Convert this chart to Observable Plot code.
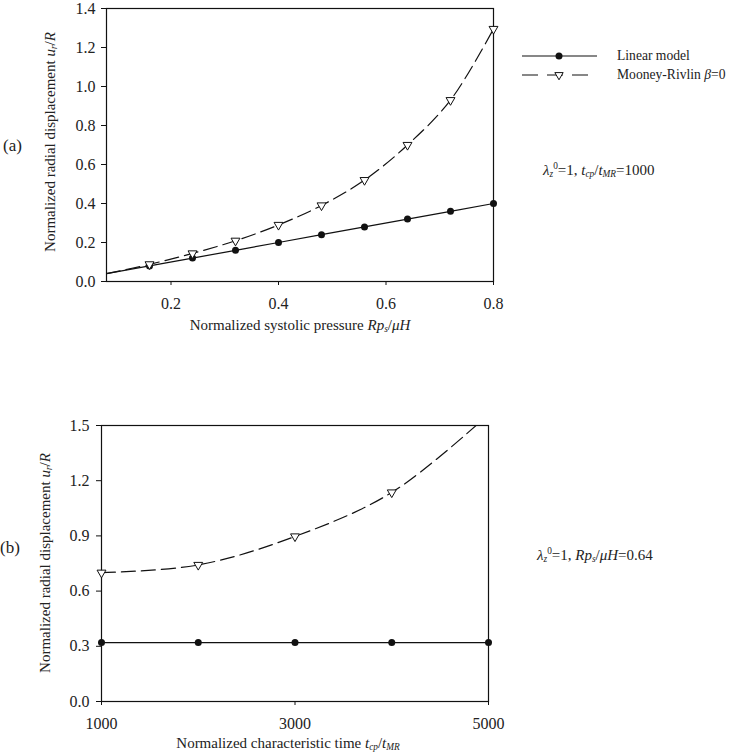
<!DOCTYPE html>
<html><head><meta charset="utf-8">
<script src="https://cdn.jsdelivr.net/npm/d3@7"></script>
<script src="https://cdn.jsdelivr.net/npm/@observablehq/plot@0.6"></script>
<style>
body{margin:0;background:#fff;}
#root{position:relative;width:730px;height:756px;font-family:"Liberation Serif","Times New Roman",serif;color:#222;overflow:hidden;}
#root svg{position:absolute;left:0;}
.ov{position:absolute;white-space:nowrap;font-size:15px;line-height:1;}
.ov sub{font-size:0.62em;vertical-align:-0.3em;line-height:0;}
.ov sup{font-size:0.62em;vertical-align:0.55em;line-height:0;}
.rot{transform:translate(-50%,-50%) rotate(-90deg);}
.ctr{transform:translate(-50%,-50%);}
.lft{transform:translateY(-50%);}
.leg{font-size:13.6px;}
.pan{font-size:17px;}
</style></head><body><div id="root"></div>
<script>
// Panel (a): normalized systolic pressure vs normalized radial displacement
const pressure = [0.08, 0.16, 0.24, 0.32, 0.40, 0.48, 0.56, 0.64, 0.72, 0.80];
const linearA  = [0.04, 0.08, 0.12, 0.16, 0.20, 0.24, 0.28, 0.32, 0.36, 0.40];
const mooneyA  = [0.04, 0.088, 0.144, 0.209, 0.29, 0.39, 0.52, 0.70, 0.93, 1.295];
const xTicksA  = [0.2, 0.4, 0.6, 0.8];
const yTicksA  = [0, 0.2, 0.4, 0.6, 0.8, 1.0, 1.2, 1.4];

// Panel (b): normalized characteristic time vs normalized radial displacement
const time     = [1000, 2000, 3000, 4000, 5000];
const linearB  = [0.32, 0.32, 0.32, 0.32, 0.32];
const mooneyB  = [0.70, 0.742, 0.897, 1.136, 1.56];
const xTicksB  = [1000, 3000, 5000];
const yTicksB  = [0, 0.3, 0.6, 0.9, 1.2, 1.5];

const seriesNames = ["Linear model", "Mooney-Rivlin"];

const dataA = pressure.map((p, i) => ({x: p, lin: linearA[i], mr: mooneyA[i]}));
const dataB = time.map((t, i) => ({x: t, lin: linearB[i], mr: mooneyB[i]}));

const root = document.getElementById("root");
const baseStyle = {fontFamily: "'Liberation Serif', 'Times New Roman', serif", fontSize: "16px", color: "#222", background: "transparent", overflow: "visible"};
const dash = "14,6";
const ink = "#111";

const plotA = Plot.plot({
  width: 730, height: 380,
  marginLeft: 106, marginRight: 237, marginTop: 8, marginBottom: 99,
  style: baseStyle,
  x: {domain: [0.08, 0.8]},
  y: {domain: [0, 1.4]},
  marks: [
    Plot.axisX({ticks: xTicksA, tickFormat: ".1f", tickSize: 4, tickPadding: 12, fontSize: 16, label: null, stroke: ink}),
    Plot.axisY({ticks: yTicksA, tickFormat: ".1f", tickSize: 5, tickPadding: 6, fontSize: 16, label: null, stroke: ink}),
    Plot.frame({stroke: ink, strokeWidth: 1.2}),
    Plot.line(dataA, {x: "x", y: "lin", stroke: ink, strokeWidth: 1.2}),
    Plot.line(dataA, {x: "x", y: "mr", stroke: ink, strokeWidth: 1.2, strokeDasharray: dash, curve: "catmull-rom"}),
    Plot.dot(dataA.filter(d => d.x >= 0.16), {x: "x", y: "lin", r: 3.5, fill: ink, stroke: "none"}),
    Plot.dot(dataA.filter(d => d.x >= 0.16), {x: "x", y: "mr", symbol: "triangle", rotate: 180, r: 3.3, fill: "#fff", stroke: ink, strokeWidth: 1})
  ]
});
plotA.style.top = "0px";
root.appendChild(plotA);

const plotB = Plot.plot({
  width: 730, height: 376,
  marginLeft: 101, marginRight: 242, marginTop: 45, marginBottom: 55,
  style: baseStyle,
  x: {domain: [1000, 5000]},
  y: {domain: [0, 1.5]},
  marks: [
    Plot.axisX({ticks: xTicksB, tickFormat: d => String(d), tickSize: 4, tickPadding: 12, fontSize: 16, label: null, stroke: ink}),
    Plot.axisY({ticks: yTicksB, tickFormat: ".1f", tickSize: 5, tickPadding: 7, fontSize: 16, label: null, stroke: ink}),
    Plot.frame({stroke: ink, strokeWidth: 1.2}),
    Plot.line(dataB, {x: "x", y: "lin", stroke: ink, strokeWidth: 1.2}),
    Plot.line(dataB, {x: "x", y: "mr", stroke: ink, strokeWidth: 1.2, strokeDasharray: dash, curve: "catmull-rom", clip: true}),
    Plot.dot(dataB, {x: "x", y: "lin", r: 3.5, fill: ink, stroke: "none"}),
    Plot.dot(dataB.filter(d => d.mr <= 1.5), {x: "x", y: "mr", symbol: "triangle", rotate: 180, r: 3.3, fill: "#fff", stroke: ink, strokeWidth: 1})
  ]
});
plotB.style.top = "380px";
root.appendChild(plotB);

// Legend symbols
const leg = d3.select(root).append("svg")
  .attr("width", 100).attr("height", 40)
  .style("left", "512px").style("top", "45px");
leg.append("line").attr("x1", 10).attr("x2", 85).attr("y1", 11).attr("y2", 11).attr("stroke", ink).attr("stroke-width", 1.2);
leg.append("circle").attr("cx", 47).attr("cy", 11).attr("r", 3.5).attr("fill", ink);
leg.append("line").attr("x1", 10).attr("x2", 85).attr("y1", 30).attr("y2", 30).attr("stroke", ink).attr("stroke-width", 1.2).attr("stroke-dasharray", "16,9");
leg.append("path").attr("d", d3.symbol(d3.symbolTriangle, 30)()).attr("transform", "translate(47,30) rotate(180)").attr("fill", "#fff").attr("stroke", ink);

function ov(html, left, top, cls) {
  const d = document.createElement("div");
  d.className = "ov " + cls;
  d.style.left = left + "px";
  d.style.top = top + "px";
  d.innerHTML = html;
  root.appendChild(d);
  return d;
}
const yTitle = "Normalized radial displacement <i>u<sub>r</sub></i>/<i>R</i>";
ov(yTitle, 50, 142, "rot");
ov(yTitle, 45, 563, "rot");
ov("Normalized systolic pressure <i>Rp<sub>s</sub></i>/<i>μH</i>", 300, 325, "ctr");
ov("Normalized characteristic time <i>t<sub>cp</sub></i>/<i>t<sub>MR</sub></i>", 288, 743, "ctr");
ov("(a)", 3, 145, "lft pan");
ov("(b)", 0, 547, "lft pan");
const l1 = ov(seriesNames[0], 617, 56, "lft leg");
const l2 = ov(seriesNames[1] + " <i>β</i>=0", 617, 75, "lft leg");
// keep the long legend entry inside the page
let fs = 13.6;
while (l2.getBoundingClientRect().right > 728 && fs > 11) {
  fs -= 0.2;
  l1.style.fontSize = fs + "px";
  l2.style.fontSize = fs + "px";
}
ov("<i>λ<sub>z</sub></i><sup>0</sup>=1, <i>t<sub>cp</sub></i>/<i>t<sub>MR</sub></i>=1000", 543, 170, "lft");
ov("<i>λ<sub>z</sub></i><sup>0</sup>=1, <i>Rp<sub>s</sub></i>/<i>μH</i>=0.64", 537, 555, "lft");
</script></body></html>
